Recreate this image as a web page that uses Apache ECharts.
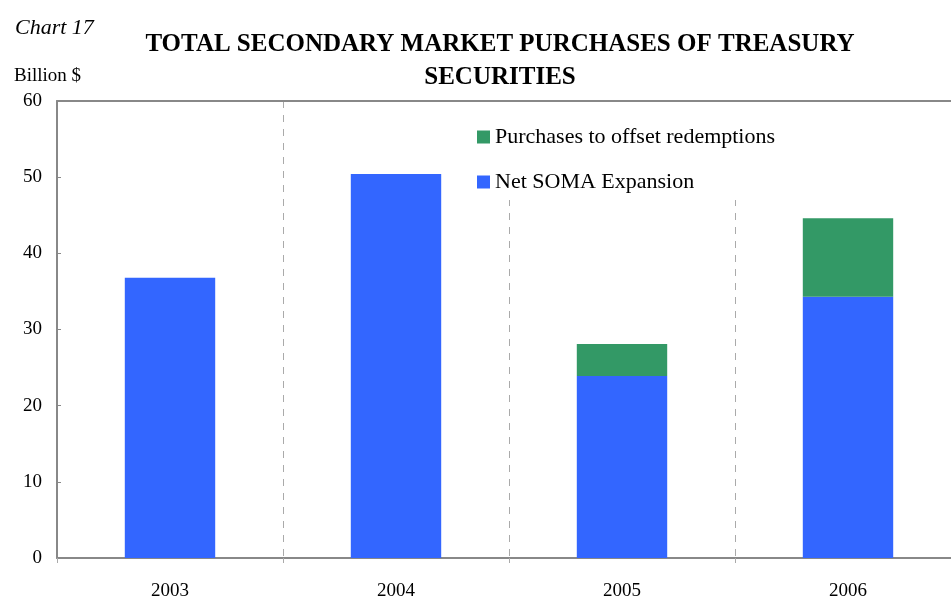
<!DOCTYPE html>
<html>
<head>
<meta charset="utf-8">
<script src="https://cdn.jsdelivr.net/npm/echarts@6/dist/echarts.min.js"></script>
<style>
  html, body { margin: 0; padding: 0; background: #fff; }
  #echarts { width: 951px; height: 601px; }
</style>
</head>
<body>
<div id="echarts"></div>
<script type="text/javascript">
	var years = ['2003', '2004', '2005', '2006'];
	var netSoma = [36.8, 50.4, 23.9, 34.3];
	var offsetRedemptions = [0, 0, 4.2, 10.3];
	var serif = '"Liberation Serif", "DejaVu Serif", serif';

	var thechart = echarts.init(document.getElementById('echarts'));
	var theoption = {
		backgroundColor: '#fff',
		animation: false,
		title: [
			{
				text: 'TOTAL SECONDARY MARKET PURCHASES OF TREASURY\nSECURITIES',
				left: 495, top: 23, textAlign: 'center',
				textStyle: { fontFamily: serif, fontSize: 25, fontWeight: 'bold', color: '#000', lineHeight: 33 }
			},
			{
				text: 'Chart 17',
				left: 10, top: 12,
				textStyle: { fontFamily: serif, fontSize: 22, fontStyle: 'italic', fontWeight: 'normal', color: '#000' }
			},
			{
				text: 'Billion $',
				left: 9, top: 62,
				textStyle: { fontFamily: serif, fontSize: 19, fontWeight: 'normal', color: '#000' }
			}
		],
		legend: {
			data: ['Purchases to offset redemptions', 'Net SOMA Expansion'],
			orient: 'vertical',
			left: 470, top: 102,
			padding: [24, 20, 7, 7],
			itemWidth: 13, itemHeight: 13,
			itemGap: 23,
			backgroundColor: '#fff',
			icon: 'rect',
			textStyle: { fontFamily: serif, fontSize: 22, color: '#000' }
		},
		grid: { left: 57, top: 101, width: 904, height: 457, outerBoundsMode: 'none' },
		xAxis: [
			{
				type: 'category',
				data: years,
				axisLine: { lineStyle: { color: '#888', width: 2 } },
				axisTick: { show: true, length: 5, lineStyle: { color: '#aaa' } },
				axisLabel: { fontFamily: serif, fontSize: 19, color: '#000', margin: 24 },
				splitLine: { show: true, lineStyle: { color: '#aaa', type: [7, 7], width: 1 } }
			},
			{
				type: 'category',
				position: 'top',
				data: years,
				axisLine: { show: true, lineStyle: { color: '#888', width: 2 } },
				axisTick: { show: false },
				axisLabel: { show: false },
				splitLine: { show: false }
			}
		],
		yAxis: {
			type: 'value',
			min: 0, max: 60, interval: 10,
			axisLine: { show: true, lineStyle: { color: '#888', width: 2 } },
			axisTick: { show: true, inside: true, length: 4, lineStyle: { color: '#888' } },
			axisLabel: { fontFamily: serif, fontSize: 19, color: '#000', margin: 15 },
			splitLine: { show: false }
		},
		series: [
			{
				name: 'Net SOMA Expansion',
				type: 'bar',
				stack: 'total',
				barWidth: '40%',
				itemStyle: { color: '#3366FF' },
				data: netSoma
			},
			{
				name: 'Purchases to offset redemptions',
				type: 'bar',
				stack: 'total',
				barWidth: '40%',
				itemStyle: { color: '#339966' },
				data: offsetRedemptions
			}
		]
	};
	thechart.setOption(theoption, true);
</script>
</body>
</html>
